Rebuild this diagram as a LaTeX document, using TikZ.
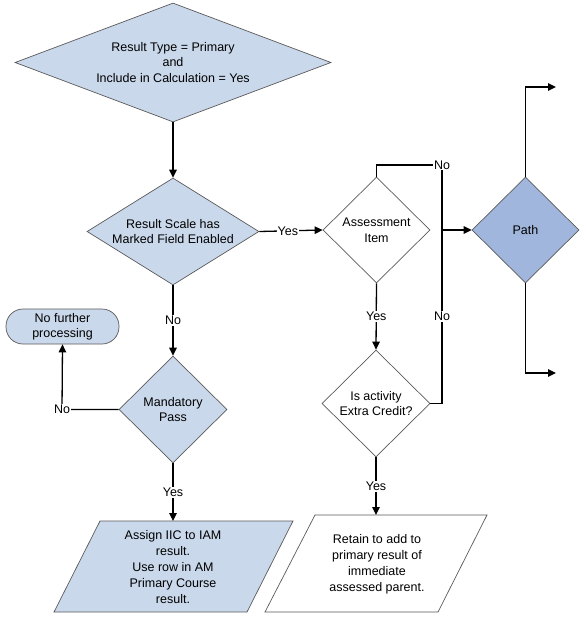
\documentclass[tikz,border=0pt]{standalone}
\usepackage{fontspec}
\setmainfont{Liberation Sans}
\usetikzlibrary{shapes.geometric,arrows.meta}
\definecolor{lightfill}{HTML}{CAD8EB}
\definecolor{pathfill}{HTML}{A1B6DC}
\definecolor{edgegray}{HTML}{5A5A5A}
\tikzset{
  dia/.style={diamond,draw=edgegray,line width=0.7pt,inner sep=0pt,align=center,font=\fontsize{12.5}{15.7}\selectfont},
  conn/.style={line width=1.3pt,-{Triangle[length=8pt,width=7.5pt]}},
  plain/.style={line width=1.3pt},
  lbl/.style={fill=white,inner sep=1pt,font=\fontsize{12.5}{14}\selectfont},
  txt/.style={align=center,font=\fontsize{12.5}{16}\selectfont},
  para/.style={draw=edgegray,line width=0.7pt}
}
\begin{document}
\begin{tikzpicture}[x=1pt,y=-1pt]
\useasboundingbox (0,0) rectangle (586,621);
\fill[white] (0,0) rectangle (586,621);

\node[dia,fill=lightfill,aspect=2.66,minimum width=316pt,minimum height=119pt] (d1) at (173,62.5)
  {Result Type = Primary\\and\\Include in Calculation = Yes};
\node[dia,fill=lightfill,aspect=1.6,minimum width=172pt,minimum height=107pt] (d2) at (173,231.5)
  {Result Scale has\\Marked Field Enabled};
\node[dia,fill=white,aspect=1,minimum width=107pt,minimum height=106pt] (d3) at (376.5,230)
  {Assessment\\Item};
\node[dia,fill=pathfill,aspect=1,minimum width=107pt,minimum height=106pt] (d4) at (525.5,230)
  {Path};
\node[dia,fill=white,aspect=1,minimum width=108pt,minimum height=107pt] (d5) at (376,403.5)
  {Is activity\\Extra Credit?};
\node[dia,fill=lightfill,aspect=1,minimum width=108pt,minimum height=107pt] (d6) at (173,409.5)
  {Mandatory\\Pass};
\node[draw=edgegray,line width=0.7pt,fill=lightfill,rounded corners=17pt,minimum width=113pt,minimum height=35pt,inner sep=0pt,txt,font=\fontsize{12.5}{15}\selectfont] (t1) at (62.5,326.5)
  {No further\\processing};

% parallelograms
\draw[para,fill=lightfill] (100,521) -- (293,521) -- (247,612) -- (54,612) -- cycle;
\coordinate (p1) at (173,521);
\node[txt] (p1t) at (173,567) {Assign IIC to IAM\\result.\\Use row in AM\\Primary Course\\result.};
\draw[para,fill=white] (315,515) -- (487,515) -- (438,612) -- (265,612) -- cycle;
\coordinate (p2) at (376,515);
\node[txt] (p2t) at (377,564) {Retain to add to\\primary result of\\immediate\\assessed parent.};

% connectors
\draw[conn] (d1.south) -- (d2.north);
\draw[conn] (d2.east) -- node[lbl,pos=0.45]{Yes} (d3.west);
\draw[conn] (d2.south) -- node[lbl]{No} (d6.north);
\coordinate (c1) at (62,409.5);
\draw[conn] (d6.west) -- (c1) -- (t1.south);
\node[lbl] at (c1) {No};
\draw[conn] (d6.south) -- node[lbl]{Yes} (p1);

\coordinate (c2) at (376.5,165);
\coordinate (c3) at (442,165);
\coordinate (c4) at (442,230);
\draw[plain] (d3.north) -- (c2) -- (c3) -- (c4);
\draw[conn] (c4) -- (d4.west);
\node[lbl] at (c3) {No};
\coordinate (c5) at (442,403.5);
\draw[plain] (d5.east) -- (c5) -- node[lbl]{No} (c4);
\draw[conn] (d3.south) -- node[lbl]{Yes} (d5.north);
\draw[conn] (d5.south) -- node[lbl]{Yes} (p2);

\coordinate (c6) at (525.5,87);
\coordinate (e1) at (556,87);
\draw[conn] (d4.north) -- (c6) -- (e1);
\coordinate (c7) at (525.5,373);
\coordinate (e2) at (556,373);
\draw[conn] (d4.south) -- (c7) -- (e2);
\end{tikzpicture}
\end{document}
